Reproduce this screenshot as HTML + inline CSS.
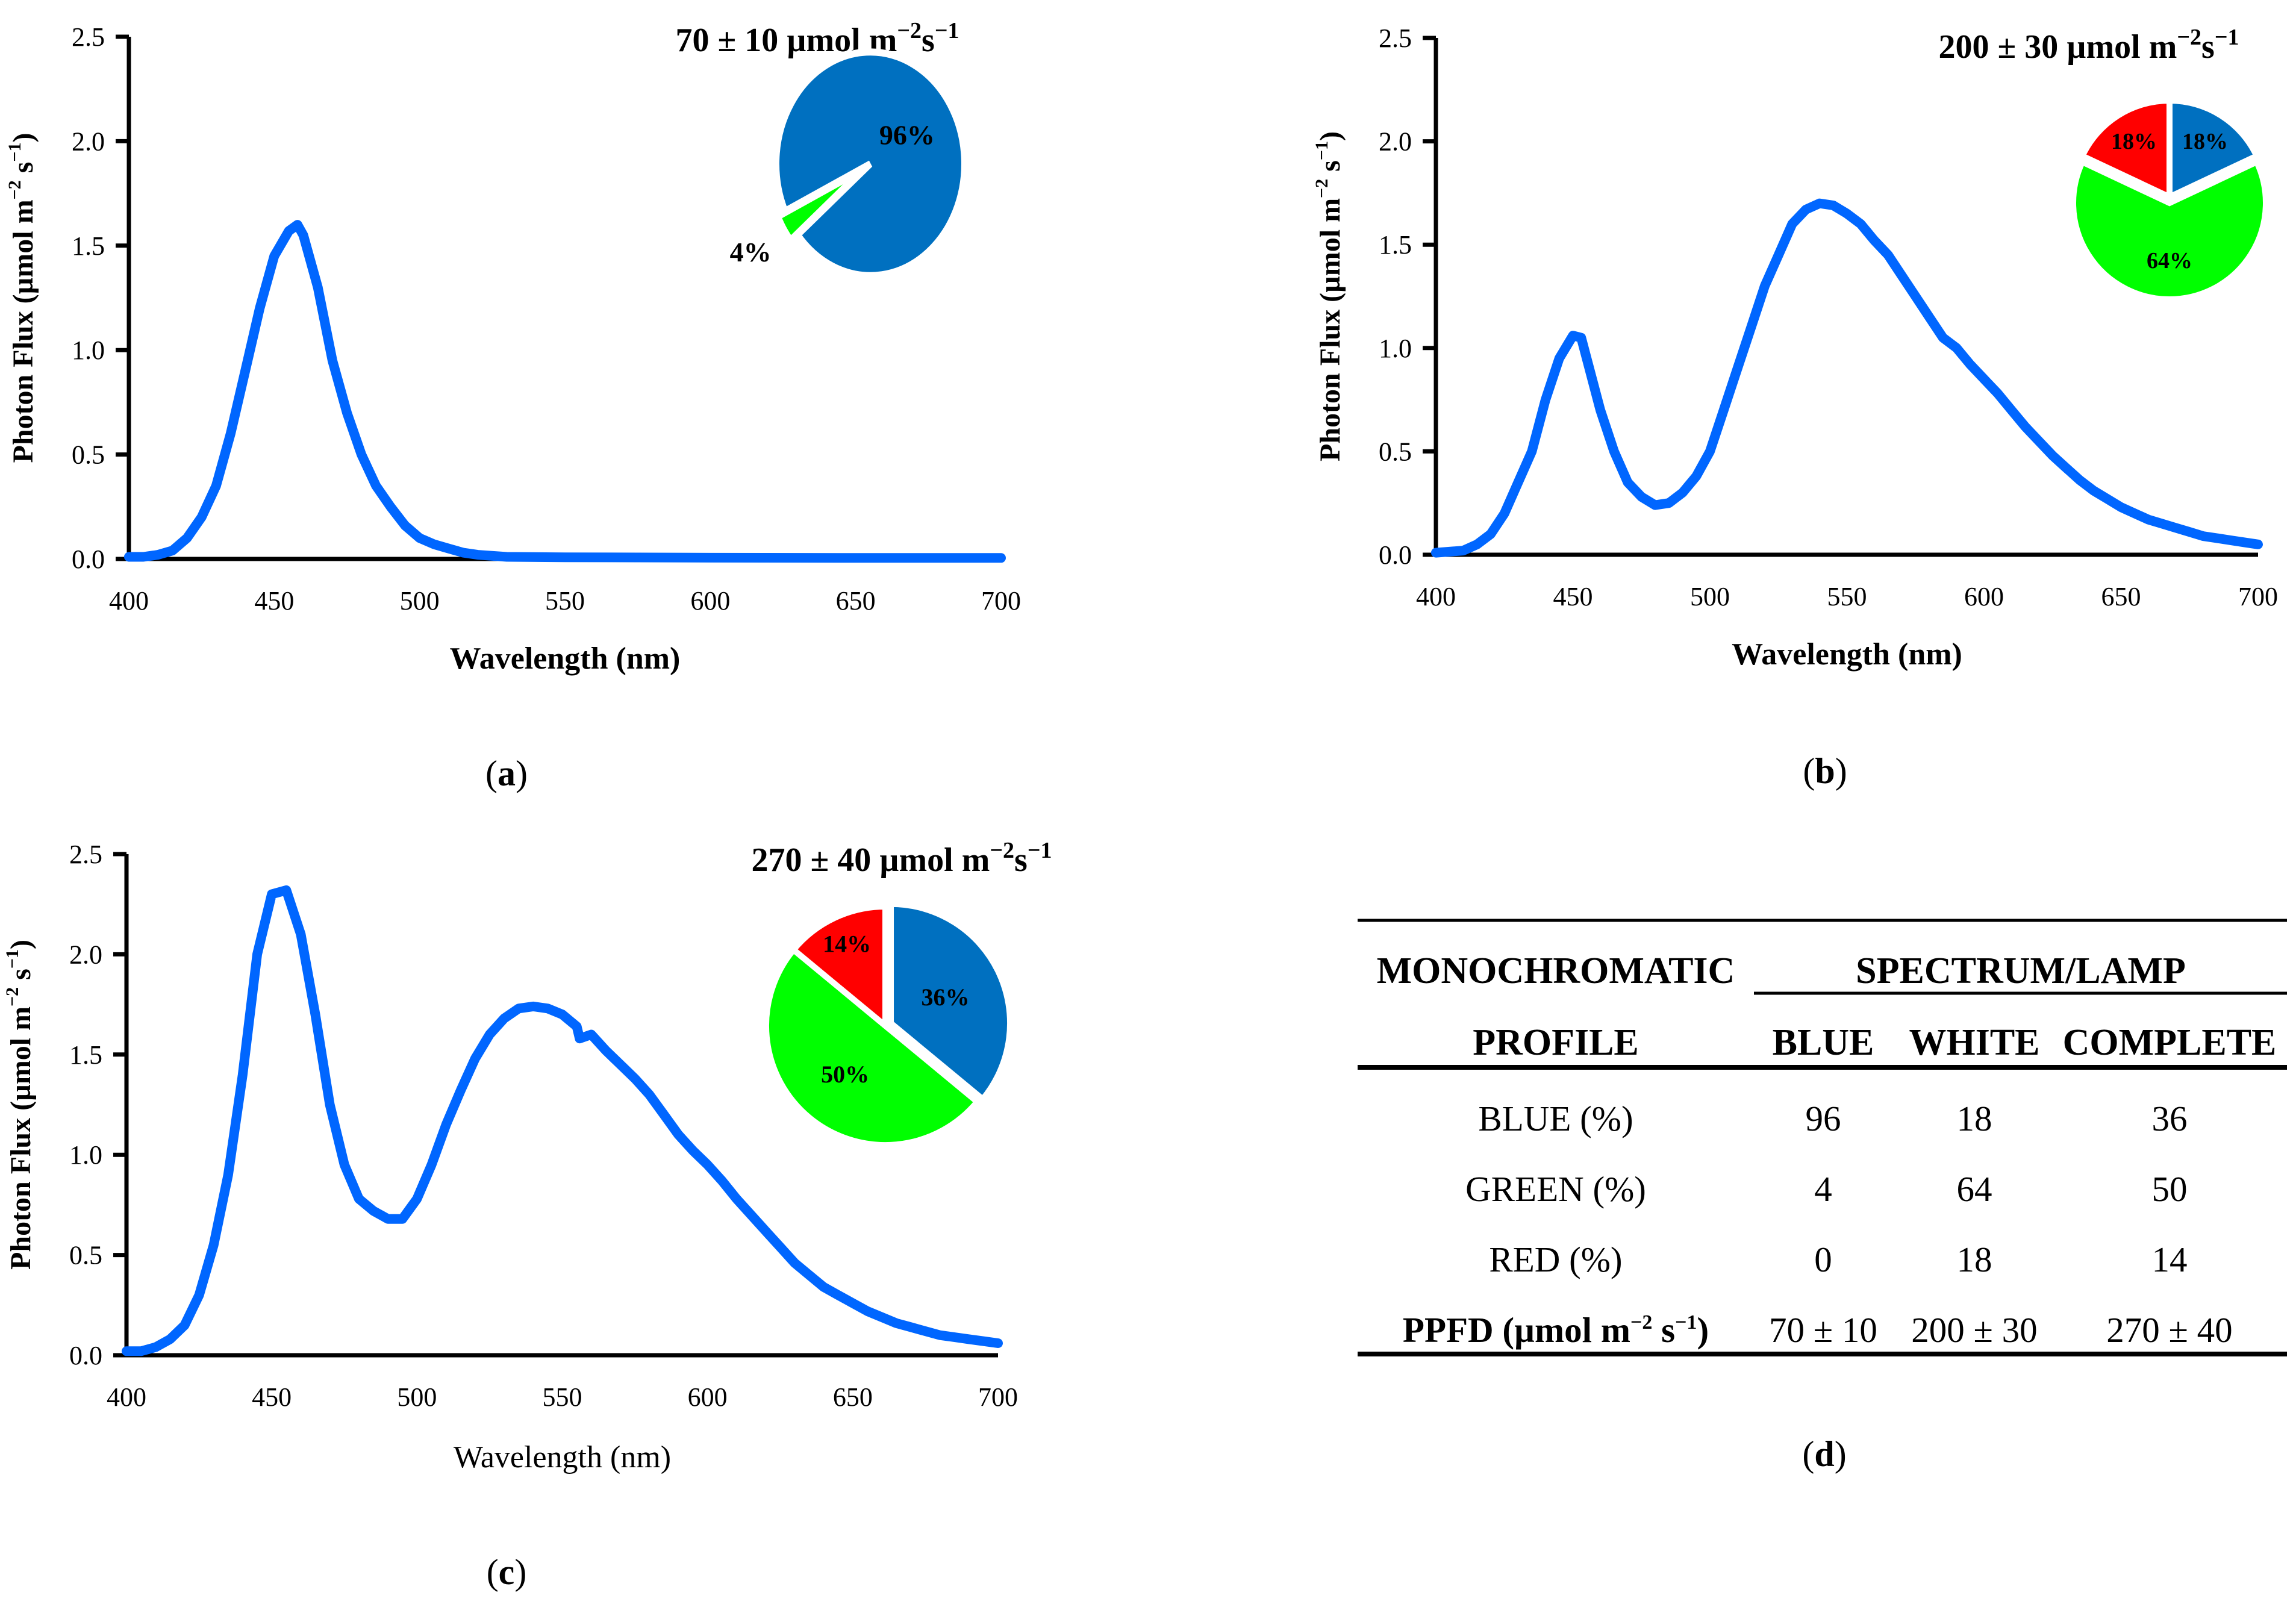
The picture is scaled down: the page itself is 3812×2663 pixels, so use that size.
<!DOCTYPE html>
<html><head><meta charset="utf-8">
<style>
html,body{margin:0;padding:0;background:#fff;}
svg{display:block;font-family:"Liberation Serif",serif;}
</style></head>
<body>
<svg id="fig" width="3812" height="2663" viewBox="0 0 3812 2663" xmlns="http://www.w3.org/2000/svg">
<g id="panelA"></g>
<g id="panelB"></g>
<g id="panelC"></g>
<g id="panelD">
  <line x1="2254" y1="1528" x2="3797" y2="1528" stroke="#000" stroke-width="5"/>
  <text x="2583" y="1632" font-size="62" font-weight="bold" text-anchor="middle">MONOCHROMATIC</text>
  <text x="3355" y="1632" font-size="62" font-weight="bold" text-anchor="middle">SPECTRUM/LAMP</text>
  <line x1="2912" y1="1649" x2="3797" y2="1649" stroke="#000" stroke-width="5"/>
  <text x="2583" y="1751" font-size="62" font-weight="bold" text-anchor="middle">PROFILE</text>
  <text x="3027" y="1751" font-size="62" font-weight="bold" text-anchor="middle">BLUE</text>
  <text x="3278" y="1751" font-size="62" font-weight="bold" text-anchor="middle">WHITE</text>
  <text x="3602" y="1751" font-size="62" font-weight="bold" text-anchor="middle">COMPLETE</text>
  <line x1="2254" y1="1772" x2="3797" y2="1772" stroke="#000" stroke-width="8"/>
  <g font-size="59" text-anchor="middle">
    <text x="2583" y="1877">BLUE (%)</text>
    <text x="3027" y="1877">96</text>
    <text x="3278" y="1877">18</text>
    <text x="3602" y="1877">36</text>
    <text x="2583" y="1994">GREEN (%)</text>
    <text x="3027" y="1994">4</text>
    <text x="3278" y="1994">64</text>
    <text x="3602" y="1994">50</text>
    <text x="2583" y="2111">RED (%)</text>
    <text x="3027" y="2111">0</text>
    <text x="3278" y="2111">18</text>
    <text x="3602" y="2111">14</text>
    <text x="2583" y="2228" font-weight="bold">PPFD (µmol m<tspan font-size="34" dy="-22">−2</tspan><tspan dy="22"> s</tspan><tspan font-size="34" dy="-22">−1</tspan><tspan dy="22">)</tspan></text>
    <text x="3027" y="2228">70 ± 10</text>
    <text x="3278" y="2228">200 ± 30</text>
    <text x="3602" y="2228">270 ± 40</text>
  </g>
  <line x1="2254" y1="2248" x2="3797" y2="2248" stroke="#000" stroke-width="8"/>
  <text x="3029" y="2434" font-size="60" text-anchor="middle">(<tspan font-weight="bold">d</tspan>)</text>
</g>
</svg>
<script>
// ---- data ----
const wlA = [400,405,410,415,420,425,430,435,440,445,450,455,458,460,465,470,475,480,485,490,495,500,505,510,515,520,530,550,600,650,700];
const fluxA = [0.01,0.01,0.02,0.04,0.1,0.2,0.35,0.6,0.9,1.2,1.45,1.57,1.6,1.55,1.3,0.95,0.7,0.5,0.35,0.25,0.16,0.1,0.07,0.05,0.03,0.02,0.01,0.008,0.006,0.005,0.005];
const wlB = [400,410,415,420,425,430,435,440,445,450,453,455,460,465,470,475,480,485,490,495,500,505,510,515,520,525,530,535,540,545,550,555,560,565,570,575,580,585,590,595,600,605,610,615,620,625,630,635,640,645,650,655,660,665,670,675,680,685,690,695,700];
const fluxB = [0.01,0.02,0.05,0.1,0.2,0.35,0.5,0.75,0.95,1.06,1.05,0.95,0.7,0.5,0.35,0.28,0.24,0.25,0.3,0.38,0.5,0.7,0.9,1.1,1.3,1.45,1.6,1.67,1.7,1.69,1.65,1.6,1.52,1.45,1.35,1.25,1.15,1.05,1.0,0.92,0.85,0.78,0.7,0.62,0.55,0.48,0.42,0.36,0.31,0.27,0.23,0.2,0.17,0.15,0.13,0.11,0.09,0.08,0.07,0.06,0.05];
const wlC = [400,405,410,415,420,425,430,435,440,445,450,455,460,465,470,475,480,485,490,495,500,505,510,515,520,525,530,535,540,545,550,555,556,560,565,570,575,580,585,590,595,600,605,610,615,620,625,630,635,640,645,650,655,660,665,670,675,680,685,690,695,700];
const fluxC = [0.02,0.02,0.04,0.08,0.15,0.3,0.55,0.9,1.4,2.0,2.3,2.32,2.1,1.7,1.25,0.95,0.78,0.72,0.68,0.68,0.78,0.95,1.15,1.32,1.48,1.6,1.68,1.73,1.74,1.73,1.7,1.64,1.58,1.6,1.52,1.45,1.38,1.3,1.2,1.1,1.02,0.95,0.87,0.78,0.7,0.62,0.54,0.46,0.4,0.34,0.3,0.26,0.22,0.19,0.16,0.14,0.12,0.1,0.09,0.08,0.07,0.06];
const xTicks = [400,450,500,550,600,650,700];
const yTicks = [0.0,0.5,1.0,1.5,2.0,2.5];
const pieLabels = ["Blue","Green","Red"];
const pieA = [96,4,0];
const pieB = [18,64,18];
const pieC = [36,50,14];
const pieColors = ["#0070c0","#00ff00","#ff0000"];

const NS = "http://www.w3.org/2000/svg";
function mk(parent, tag, attrs){
  const e = document.createElementNS(NS, tag);
  for (const k in attrs) e.setAttribute(k, attrs[k]);
  parent.appendChild(e);
  return e;
}

function drawPanel(gid, cfg, wl, flux, pie){
  const g = document.getElementById(gid);
  const sx = v => cfg.x0 + (v-400)/300*(cfg.x1-cfg.x0);
  const sy = v => cfg.y0 - v/2.5*(cfg.y0-cfg.y1);
  const ya = mk(g,"line",{x1:cfg.x0,y1:cfg.y1,x2:cfg.x0,y2:cfg.y0,stroke:"#000","stroke-width":7});
  
  
  const xa = mk(g,"line",{x1:cfg.x0-3,y1:cfg.y0,x2:cfg.x1,y2:cfg.y0,stroke:"#000","stroke-width":7});
  
  
  yTicks.forEach(t=>{
    const y = sy(t);
    const tk = mk(g,"line",{x1:cfg.x0-22,y1:y,x2:cfg.x0,y2:y,stroke:"#000","stroke-width":7});
    
    
    const tl = mk(g,"text",{x:cfg.x0-40,y:y+15,"font-size":44,"text-anchor":"end"});
    tl.textContent = t.toFixed(1);
    
    
  });
  xTicks.forEach(t=>{
    const tl = mk(g,"text",{x:sx(t),y:cfg.y0+84,"font-size":44,"text-anchor":"middle"});
    tl.textContent = t;
    
    
  });
  let d = "";
  wl.forEach((w,i)=>{ d += (i?"L":"M") + sx(w).toFixed(1) + "," + sy(flux[i]).toFixed(1); });
  const ln = mk(g,"path",{d:d,fill:"none",stroke:"#0066ff","stroke-width":16,"stroke-linejoin":"round","stroke-linecap":"round"});
  
  
  const xt = mk(g,"text",{x:(cfg.x0+cfg.x1)/2,y:cfg.xtY,"font-size":52,"text-anchor":"middle","font-weight":cfg.xtBold?"bold":"normal"});
  xt.textContent = "Wavelength (nm)";
  
  
  const yt = mk(g,"text",{x:0,y:0,"font-size":48,"font-weight":"bold","text-anchor":"middle",transform:`translate(${cfg.x0-160},${(cfg.y0+cfg.y1)/2}) rotate(-90)`});
  yt.innerHTML = 'Photon Flux (µmol m<tspan font-size="30" dy="-20">−2</tspan><tspan dy="20"> s</tspan><tspan font-size="30" dy="-20">−1</tspan><tspan dy="20">)</tspan>';
  
  
  const an = mk(g,"text",{x:cfg.annX,y:cfg.annY,"font-size":56,"font-weight":"bold","text-anchor":"middle"});
  an.innerHTML = cfg.ann + ' µmol m<tspan font-size="38" dy="-22">−2</tspan><tspan dy="22">s</tspan><tspan font-size="38" dy="-22">−1</tspan>';
  
  
  const pl = mk(g,"text",{x:cfg.plX,y:cfg.plY,"font-size":60,"text-anchor":"middle"});
  pl.innerHTML = '(<tspan font-weight="bold">'+cfg.pl+'</tspan>)';
  
  
  const pg = mk(g,"g",{transform:`translate(${cfg.pcx},${cfg.pcy}) scale(1,${cfg.psy})`});
  
  
  const total = pie.reduce((a,b)=>a+b,0);
  let ang = cfg.pStart;
  pie.forEach((v,i)=>{
    if (v<=0) return;
    const a0 = ang, a1 = ang + v/total*360; ang = a1;
    const mid = (a0+a1)/2*Math.PI/180;
    const off = cfg.explode[i]||0;
    const ox = off*Math.sin(mid), oy = -off*Math.cos(mid);
    const r = cfg.pr;
    const p0x = ox + r*Math.sin(a0*Math.PI/180), p0y = oy - r*Math.cos(a0*Math.PI/180);
    const p1x = ox + r*Math.sin(a1*Math.PI/180), p1y = oy - r*Math.cos(a1*Math.PI/180);
    const large = (a1-a0)>180?1:0;
    const sl = mk(pg,"path",{d:`M${ox},${oy}L${p0x},${p0y}A${r},${r} 0 ${large} 1 ${p1x},${p1y}Z`,fill:pieColors[i],stroke:"#fff","stroke-width":10,"stroke-linejoin":"miter"});
    
    
    const lr = cfg.labR[i];
    const lx = cfg.pcx + lr*Math.sin(mid), ly = cfg.pcy - lr*Math.cos(mid)*cfg.psy;
    const tl = mk(g,"text",{x:lx,y:ly+13,"font-size":cfg.labSize,"font-weight":"bold","text-anchor":"middle"});
    tl.textContent = v + "%";
    
    
  });
}

drawPanel("panelA",{x0:214,x1:1662,y0:928,y1:61,xtY:1110,xtBold:true,annX:1357,annY:85,ann:"70 ± 10",plX:841,plY:1304,pl:"a",
  pcx:1445,pcy:272,pr:156,psy:1.19,pStart:-115,explode:[0,14,0],labR:[72,235,0],labSize:46},wlA,fluxA,pieA);
drawPanel("panelB",{x0:2384,x1:3749,y0:921,y1:63,xtY:1103,xtBold:true,annX:3468,annY:96,ann:"200 ± 30",plX:3030,plY:1300,pl:"b",
  pcx:3602,pcy:327,pr:160,psy:1.0,pStart:0,explode:[0,10,0],labR:[110,105,110],labSize:38},wlB,fluxB,pieB);
drawPanel("panelC",{x0:210,x1:1657,y0:2250,y1:1418,xtY:2436,xtBold:false,annX:1497,annY:1446,ann:"270 ± 40",plX:841,plY:2630,pl:"c",
  pcx:1470,pcy:1703,pr:198,psy:1.0,pStart:0,explode:[10,0,0],labR:[110,105,150],labSize:40},wlC,fluxC,pieC);
</script>
</body></html>
